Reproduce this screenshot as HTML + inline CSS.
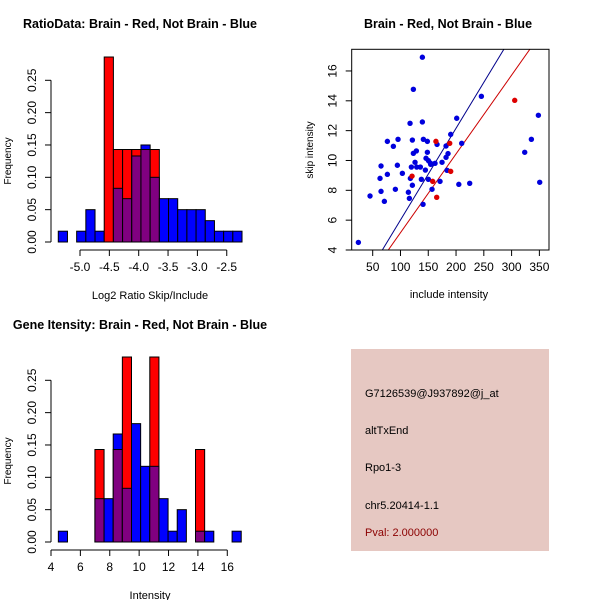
<!DOCTYPE html>
<html><head><meta charset="utf-8"><style>
body{margin:0;background:#fff}
svg text{font-family:"Liberation Sans",sans-serif}
</style></head><body>
<svg id="s" width="600" height="600" xmlns="http://www.w3.org/2000/svg">
<rect width="600" height="600" fill="#fff"/>
<rect x="351" y="349" width="198" height="202" fill="#e6c8c2"/>
<text x="365" y="397" font-size="11" fill="#000">G7126539@J937892@j_at</text>
<text x="365" y="434" font-size="11" fill="#000">altTxEnd</text>
<text x="365" y="471" font-size="11" fill="#000">Rpo1-3</text>
<text x="365" y="509" font-size="11" fill="#000">chr5.20414-1.1</text>
<text x="365" y="536" font-size="11" fill="#8b0000">Pval: 2.000000</text>
</svg>
<script>
// ---- data: ratio histogram ----
const ratioStart = -5.37;
const ratioBinW = 0.1565;
const ratioBlue = [0.0167,0,0.0167,0.05,0.0167,0,0.083,0.067,0.133,0.15,0.10,0.067,0.067,0.05,0.05,0.05,0.033,0.0167,0.0167,0.0167];
const ratioRed  = [0,0,0,0,0,0.286,0.143,0.143,0.143,0.143,0.143,0,0,0,0,0,0,0,0,0];
const ratioXTicks = [-5.0,-4.5,-4.0,-3.5,-3.0,-2.5];
const freqTicks = [0,0.05,0.10,0.15,0.20,0.25];
// ---- data: intensity histogram ----
const intStart = 4.5;
const intBinW = 0.6225;
const intBlue = [0.0167,0,0,0,0.067,0.067,0.167,0.083,0.183,0.117,0.117,0.067,0.0167,0.05,0,0.0167,0.0167,0,0,0.0167];
const intRed  = [0,0,0,0,0.143,0,0.143,0.286,0,0,0.286,0,0,0,0,0.143,0,0,0,0];
const intXTicks = [4,6,8,10,12,14,16];
// ---- data: scatter ----
const blueX = [24.2,45.2,65,63.2,65,71,76.4,76.4,87.2,95.6,94.4,90.8,103.4,114.2,116,117.8,121.4,117.2,123.2,139.4,139.4,121.4,123.2,128.6,126.2,119.6,129.2,135.8,141.2,148.4,148.4,146,150.2,153.8,144.8,137.6,150.2,140.6,156.8,162.2,154.4,165.8,171.2,174.8,182,182,185.6,183.8,190.4,201.2,210.2,205,224.6,245.6,323.6,335.6,348.2,350.6];
const blueY = [4.51,7.62,9.63,8.80,7.93,7.26,9.07,11.28,10.95,11.42,9.68,8.07,9.14,7.87,7.46,8.80,8.34,12.49,14.77,16.92,12.58,11.37,10.48,10.64,9.88,9.56,9.56,9.56,11.42,11.28,10.55,10.15,9.99,9.83,9.36,8.74,8.74,7.06,8.07,9.81,9.74,11.08,8.60,9.88,10.97,10.21,10.46,9.34,11.75,12.83,11.15,8.40,8.47,14.30,10.55,11.42,13.03,8.54];
const redX = [120.8,163.8,188.6,190.4,158,165.2,305.6];
const redY = [8.95,11.28,11.15,9.27,8.60,7.53,14.03];
const lineSlope = [0.0615,0.0528];
const lineIntercept = [-0.14,-0.12];
const scatXTicks = [50,100,150,200,250,300,350];
const scatYTicks = [4,6,8,10,12,14,16];

const NS="http://www.w3.org/2000/svg";
const svg=document.getElementById('s');
function mk(tag,attrs,parent){const e=document.createElementNS(NS,tag);for(const k in attrs)e.setAttribute(k,attrs[k]);(parent||svg).appendChild(e);return e;}
function txt(x,y,s,opts,name){const t=mk('text',Object.assign({x:x,y:y,'font-size':12,'text-anchor':'middle',fill:'#000'},opts||{}));t.textContent=s;


return t;}
function fmt2(v){return v.toFixed(2);}

function histogram(cfg){
  const g=mk('g',{});
  
  
  const sx=v=>cfg.x0px+(v-cfg.x0v)*cfg.xs;
  const sy=v=>cfg.y0px-v*cfg.ys;
  const n=cfg.blue.length;
  for(let i=0;i<n;i++){
    const a=sx(cfg.start+i*cfg.w), b=sx(cfg.start+(i+1)*cfg.w);
    const bl=cfg.blue[i], rd=cfg.red[i];
    const hi=Math.max(bl,rd), lo=Math.min(bl,rd);
    if(hi>0){
      const r=mk('rect',{x:a,y:sy(hi),width:b-a,height:sy(0)-sy(hi),fill:bl>=rd?'#0000ff':'#ff0000',stroke:'#000','stroke-width':1},g);
      
      
    }
    if(lo>0){
      const r=mk('rect',{x:a,y:sy(lo),width:b-a,height:sy(0)-sy(lo),fill:'#800080',stroke:'#000','stroke-width':1},g);
      
      
    }
  }
  mk('line',{x1:cfg.yAxisX,x2:cfg.yAxisX,y1:sy(0),y2:sy(0.25),stroke:'#000'},g);
  freqTicks.forEach(v=>{mk('line',{x1:cfg.yAxisX-6,x2:cfg.yAxisX,y1:sy(v),y2:sy(v),stroke:'#000'},g);
    txt(cfg.yAxisX-19,sy(v)+4,fmt2(v),{transform:`rotate(-90 ${cfg.yAxisX-19} ${sy(v)})`},'y-tick-label');});
  const xt=cfg.xticks;
  mk('line',{x1:sx(xt[0]),x2:sx(xt[xt.length-1]),y1:cfg.xAxisY,y2:cfg.xAxisY,stroke:'#000'},g);
  xt.forEach(v=>{mk('line',{x1:sx(v),x2:sx(v),y1:cfg.xAxisY,y2:cfg.xAxisY+6,stroke:'#000'},g);
    txt(sx(v),cfg.xAxisY+21,cfg.fmt(v),{},'x-tick-label');});
  txt(cfg.xTitleX,cfg.xAxisY+49,cfg.xTitle,{'font-size':11},'x-axis-title');
  txt(11,cfg.y0px-81,'Frequency',{transform:`rotate(-90 11 ${cfg.y0px-81})`,'font-size':10},'y-axis-title');
  txt(cfg.titleX,cfg.titleY,cfg.title,{'font-weight':'bold','font-size':12.5},'chart-title');
}
histogram({name:'ratio-histogram',start:ratioStart,w:ratioBinW,blue:ratioBlue,red:ratioRed,
  x0v:-5,x0px:80,xs:58.7,y0px:242,ys:646.8,yAxisX:51,xAxisY:250,xticks:ratioXTicks,fmt:v=>v.toFixed(1),
  xTitle:'Log2 Ratio Skip/Include',xTitleX:150,title:'RatioData: Brain - Red, Not Brain - Blue',titleX:140,titleY:28});
histogram({name:'intensity-histogram',start:intStart,w:intBinW,blue:intBlue,red:intRed,
  x0v:4,x0px:51,xs:14.69,y0px:542,ys:646.8,yAxisX:51,xAxisY:550,xticks:intXTicks,fmt:v=>String(v),
  xTitle:'Intensity',xTitleX:150,title:'Gene Itensity: Brain - Red, Not Brain - Blue',titleX:140,titleY:329});

(function(){
  const g=mk('g',{});
  
  
  const L=351.7,R=549,T=49.3,B=250;
  const sx=v=>372.7+(v-50)*0.5556;
  const sy=v=>250-(v-4)*14.92;
  const cp=mk('clipPath',{id:'cp'},g);mk('rect',{x:L,y:T,width:R-L,height:B-T},cp);
  const cols=['#00008b','#cc0000'];
  lineSlope.forEach((s,i)=>{const x1=0,x2=400;
    const l=mk('line',{x1:sx(x1),y1:sy(lineIntercept[i]+s*x1),x2:sx(x2),y2:sy(lineIntercept[i]+s*x2),stroke:cols[i],'stroke-width':1,'clip-path':'url(#cp)'},g);
    
    });
  blueX.forEach((x,i)=>{const c=mk('circle',{cx:sx(x),cy:sy(blueY[i]),r:2.7,fill:'#0000dd'},g);
    
    });
  redX.forEach((x,i)=>{const c=mk('circle',{cx:sx(x),cy:sy(redY[i]),r:2.7,fill:'#dd0000'},g);
    
    });
  mk('rect',{x:L,y:T,width:R-L,height:B-T,fill:'none',stroke:'#000'},g);
  scatXTicks.forEach(v=>{mk('line',{x1:sx(v),x2:sx(v),y1:B,y2:B+6,stroke:'#000'},g);txt(sx(v),B+21,String(v),{},'x-tick-label');});
  scatYTicks.forEach(v=>{mk('line',{x1:L-6,x2:L,y1:sy(v),y2:sy(v),stroke:'#000'},g);
    txt(L-19,sy(v)+4,String(v),{transform:`rotate(-90 ${L-19} ${sy(v)})`},'y-tick-label');});
  txt(449,298,'include intensity',{'font-size':11},'x-axis-title');
  txt(313,150,'skip intensity',{transform:'rotate(-90 313 150)','font-size':10},'y-axis-title');
  txt(448,28,'Brain - Red, Not Brain - Blue',{'font-weight':'bold','font-size':12.5},'chart-title');
})();
</script>
</body></html>
